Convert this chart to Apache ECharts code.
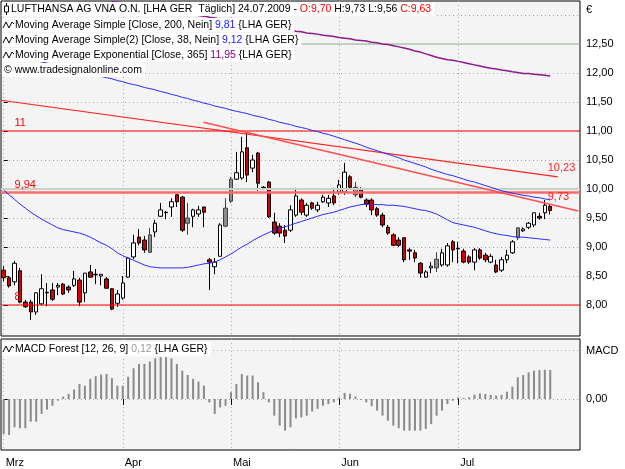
<!DOCTYPE html>
<html>
<head>
<meta charset="utf-8">
<style>
html, body { margin: 0; padding: 0; background: #fff; }
#chart { width: 625px; height: 469px; }
</style>
</head>
<body>
<div id="chart"></div>
<script src="https://cdn.jsdelivr.net/npm/echarts@6.0.0/dist/echarts.min.js"></script>
<script>
// LHA GER daily, 02.03.2009 - 24.07.2009, one row per trading day: open, close, low, high
var candles = [
  [8.60, 8.47, 8.41, 8.67], [8.47, 8.33, 8.30, 8.50], [8.40, 8.72, 8.34, 8.76], [8.59, 8.05, 8.03, 8.64],
  [8.05, 7.97, 7.95, 8.09], [8.05, 7.88, 7.74, 8.09], [7.88, 8.21, 7.83, 8.22], [8.02, 8.28, 8.00, 8.53],
  [8.21, 8.22, 7.98, 8.38], [8.26, 8.10, 8.07, 8.38], [8.31, 8.34, 8.17, 8.38], [8.36, 8.19, 8.17, 8.38],
  [8.31, 8.26, 8.21, 8.34], [8.34, 8.45, 8.31, 8.59], [8.43, 8.05, 7.98, 8.47], [8.21, 8.55, 8.05, 8.55],
  [8.57, 8.48, 8.48, 8.69], [8.52, 8.53, 8.36, 8.62], [8.50, 8.53, 8.34, 8.53], [8.45, 8.29, 8.28, 8.48],
  [8.28, 7.93, 7.91, 8.29], [8.03, 8.19, 7.97, 8.26], [8.12, 8.38, 8.09, 8.50], [8.48, 8.81, 8.47, 8.83],
  [8.83, 9.07, 8.79, 9.21], [9.17, 9.07, 9.03, 9.31], [9.12, 8.95, 8.90, 9.19], [8.91, 9.21, 8.90, 9.33],
  [9.26, 9.41, 9.17, 9.47], [9.53, 9.64, 9.52, 9.76], [9.59, 9.60, 9.48, 9.62], [9.69, 9.78, 9.52, 9.84],
  [9.90, 9.78, 9.69, 9.91], [9.86, 9.29, 9.26, 9.88], [9.41, 9.50, 9.21, 9.76], [9.53, 9.64, 9.34, 9.66],
  [9.57, 9.64, 9.52, 9.71], [9.69, 9.60, 9.34, 9.69], [8.78, 8.74, 8.26, 8.81], [8.66, 8.74, 8.53, 8.81],
  [8.84, 9.38, 8.84, 9.41], [9.36, 9.67, 9.34, 9.84], [9.79, 10.17, 9.76, 10.21], [10.17, 10.28, 10.16, 10.64],
  [10.19, 10.64, 10.16, 10.90], [10.71, 10.24, 10.12, 10.97], [10.36, 10.50, 10.29, 10.59], [10.62, 10.10, 9.97, 10.64],
  [10.03, 10.02, 9.98, 10.05], [10.12, 9.52, 9.50, 10.14], [9.43, 9.24, 9.21, 9.59], [9.36, 9.24, 9.17, 9.41],
  [9.29, 9.19, 9.07, 9.38], [9.29, 9.64, 9.26, 9.72], [9.55, 9.88, 9.52, 10.02], [9.81, 9.60, 9.55, 9.84],
  [9.55, 9.72, 9.52, 9.76], [9.76, 9.67, 9.64, 9.78], [9.64, 9.72, 9.60, 9.78], [9.78, 9.86, 9.76, 9.90],
  [9.76, 9.84, 9.69, 9.90], [9.88, 9.76, 9.72, 10.02], [9.95, 10.07, 9.90, 10.16], [9.95, 10.29, 9.90, 10.45],
  [10.21, 10.03, 10.00, 10.24], [9.90, 10.03, 9.86, 10.12], [10.00, 9.86, 9.84, 10.03], [9.81, 9.74, 9.69, 9.84],
  [9.81, 9.64, 9.55, 9.84], [9.66, 9.55, 9.52, 9.69], [9.55, 9.38, 9.34, 9.59], [9.34, 9.24, 9.21, 9.38],
  [9.21, 9.03, 9.02, 9.24], [9.12, 9.03, 9.00, 9.17], [9.16, 8.78, 8.74, 9.16], [8.95, 8.93, 8.78, 8.98],
  [8.90, 8.81, 8.74, 8.95], [8.72, 8.55, 8.47, 8.74], [8.48, 8.57, 8.47, 8.60], [8.64, 8.67, 8.55, 8.74],
  [8.64, 8.79, 8.57, 8.91], [8.69, 8.90, 8.66, 8.97], [8.69, 9.02, 8.66, 9.07], [9.09, 8.95, 8.74, 9.12],
  [8.97, 8.98, 8.72, 9.09], [8.93, 8.74, 8.72, 8.97], [8.83, 8.74, 8.71, 8.86], [8.74, 8.95, 8.60, 8.98],
  [8.95, 8.81, 8.78, 8.98], [8.86, 8.78, 8.74, 8.90], [8.74, 8.84, 8.72, 8.88], [8.69, 8.57, 8.55, 8.78],
  [8.60, 8.78, 8.57, 8.83], [8.78, 8.86, 8.72, 8.95], [8.90, 9.09, 8.88, 9.12], [9.16, 9.33, 9.12, 9.34],
  [9.28, 9.31, 9.26, 9.34], [9.34, 9.41, 9.31, 9.43], [9.38, 9.59, 9.34, 9.59], [9.53, 9.50, 9.47, 9.59],
  [9.59, 9.72, 9.48, 9.81], [9.70, 9.63, 9.56, 9.73]
];
// days drawn with a grey body
var grayDays = [27, 34, 41, 42, 65, 80, 95];

var ma200 = [
  12.34, 12.32, 12.30, 12.28, 12.26, 12.24, 12.21, 12.19, 12.17, 12.15,
  12.12, 12.10, 12.08, 12.06, 12.03, 12.01, 11.99, 11.97, 11.94, 11.92,
  11.90, 11.87, 11.85, 11.82, 11.80, 11.78, 11.75, 11.73, 11.71, 11.68,
  11.66, 11.63, 11.61, 11.58, 11.56, 11.53, 11.51, 11.48, 11.46, 11.43,
  11.41, 11.39, 11.36, 11.34, 11.32, 11.30, 11.27, 11.25, 11.23, 11.20,
  11.18, 11.15, 11.13, 11.11, 11.08, 11.06, 11.04, 11.01, 10.99, 10.96,
  10.94, 10.91, 10.88, 10.85, 10.82, 10.79, 10.76, 10.72, 10.69, 10.66,
  10.63, 10.60, 10.57, 10.54, 10.50, 10.47, 10.44, 10.41, 10.38, 10.34,
  10.31, 10.28, 10.25, 10.23, 10.20, 10.17, 10.14, 10.12, 10.09, 10.06,
  10.03, 10.00, 9.97, 9.95, 9.93, 9.91, 9.89, 9.88, 9.86, 9.85,
  9.83, 9.81
];
var ma38 = [
  9.98, 9.90, 9.82, 9.74, 9.67, 9.60, 9.54, 9.48, 9.43, 9.38,
  9.33, 9.30, 9.28, 9.26, 9.24, 9.21, 9.17, 9.12, 9.07, 9.03,
  8.97, 8.90, 8.85, 8.81, 8.77, 8.73, 8.69, 8.66, 8.65, 8.64,
  8.64, 8.64, 8.64, 8.64, 8.65, 8.67, 8.69, 8.71, 8.72, 8.74,
  8.78, 8.83, 8.88, 8.94, 9.00, 9.05, 9.11, 9.16, 9.21, 9.25,
  9.29, 9.32, 9.35, 9.38, 9.41, 9.44, 9.47, 9.50, 9.53, 9.56,
  9.58, 9.60, 9.63, 9.66, 9.69, 9.71, 9.73, 9.74, 9.74, 9.73,
  9.73, 9.72, 9.72, 9.71, 9.70, 9.68, 9.66, 9.64, 9.63, 9.60,
  9.57, 9.52, 9.47, 9.42, 9.40, 9.38, 9.36, 9.34, 9.31, 9.28,
  9.25, 9.23, 9.21, 9.20, 9.18, 9.17, 9.17, 9.16, 9.15, 9.14,
  9.13, 9.12
];
var ema365 = [
  null, null, null, null, null, null, null, null, null, null,
  null, null, null, null, null, null, null, null, null, null,
  13.23, 13.22, 13.20, 13.19, 13.17, 13.16, 13.14, 13.13, 13.11, 13.10,
  13.08, 13.07, 13.05, 13.04, 13.02, 13.01, 12.99, 12.98, 12.96, 12.95,
  12.93, 12.92, 12.91, 12.89, 12.87, 12.86, 12.84, 12.83, 12.81, 12.80,
  12.78, 12.77, 12.75, 12.74, 12.72, 12.71, 12.69, 12.68, 12.67, 12.65,
  12.64, 12.63, 12.61, 12.60, 12.59, 12.57, 12.56, 12.55, 12.53, 12.52,
  12.50, 12.49, 12.47, 12.45, 12.43, 12.41, 12.38, 12.36, 12.33, 12.30,
  12.27, 12.25, 12.23, 12.22, 12.20, 12.18, 12.16, 12.14, 12.12, 12.10,
  12.08, 12.07, 12.05, 12.04, 12.02, 12.01, 11.99, 11.99, 11.98, 11.97,
  11.96, 11.95
];
var macd = [
  -0.145, -0.149, -0.117, -0.121, -0.121, -0.094, -0.094, -0.062, -0.044, -0.028,
  -0.007, 0.010, 0.021, 0.039, 0.062, 0.055, 0.083, 0.094, 0.101, 0.103,
  0.086, 0.055, 0.055, 0.092, 0.127, 0.145, 0.145, 0.155, 0.168, 0.173,
  0.173, 0.168, 0.145, 0.117, 0.099, 0.083, 0.072, 0.055, -0.014, -0.062,
  -0.035, -0.028, 0.028, 0.062, 0.103, 0.097, 0.097, 0.069, 0.028, -0.014,
  -0.069, -0.110, -0.131, -0.117, -0.080, -0.076, -0.069, -0.052, -0.041, -0.028,
  -0.021, -0.014, 0.007, 0.025, 0.021, 0.010, -0.004, -0.014, -0.030, -0.048,
  -0.069, -0.090, -0.110, -0.121, -0.131, -0.131, -0.131, -0.131, -0.124, -0.104,
  -0.069, -0.048, -0.021, -0.007, 0.007, 0.004, 0.007, 0.018, 0.023, 0.021,
  0.017, 0.014, 0.017, 0.030, 0.051, 0.090, 0.099, 0.110, 0.117, 0.120,
  0.121, 0.120
];

var monthStarts = [0, 22, 42, 62, 84];
var monthNames = ['Mrz', 'Apr', 'Mai', 'Jun', 'Jul'];
var priceTicks = [8, 8.5, 9, 9.5, 10, 10.5, 11, 11.5, 12, 12.5];
var priceGrid = priceTicks.concat([13]);

// drawn lines: labelled horizontals, plain horizontals, trend lines
var levels = [11, 9.94, 8];
var plainLevels = [12.5, 10];
var trendA = [[-0.5, 11.53], [102.4, 10.21]];
var trendB = [[36.9, 11.15], [106.2, 9.62]];
var trendValues = [10.23, 9.73];

var FONT = '"Liberation Sans", Arial, sans-serif';
var XMIN = -0.5, XMAX = 106.5;

function comma(v) { return v.toFixed(2).replace('.', ','); }
function pairs(arr) { return arr.map(function (v, i) { return [i, v]; }); }

var chart = echarts.init(document.getElementById('chart'), null, {renderer: 'canvas'});

var candleData = candles.map(function (c, i) {
  var item = {value: [i, c[0], c[1], c[2], c[3]]};
  if (grayDays.indexOf(i) >= 0) {
    item.itemStyle = {color: '#8c8c8c', color0: '#8c8c8c', borderColor: '#404040', borderColor0: '#404040'};
  }
  return item;
});

function hline(v, color, width, type, labelText, gridIdx) {
  var s = {
    type: 'line', xAxisIndex: gridIdx || 0, yAxisIndex: gridIdx || 0,
    data: [[XMIN, v], [XMAX, v]], symbol: 'none', silent: true, z: 3,
    lineStyle: {color: color, width: width, type: type || 'solid'}
  };
  if (labelText) {
    s.markPoint = {
      symbol: 'circle', symbolSize: 1, itemStyle: {color: 'rgba(0,0,0,0)'},
      data: [{coord: [2.1, v]}],
      label: {show: true, position: [0, -13], formatter: labelText, color: '#ff0000', fontSize: 11, fontFamily: FONT}
    };
  }
  return s;
}

function trend(pts, color, width, value) {
  return {
    type: 'line', data: pts, symbol: 'none', silent: true, z: 3,
    lineStyle: {color: color, width: width},
    markPoint: {
      symbol: 'circle', symbolSize: 1, itemStyle: {color: 'rgba(0,0,0,0)'},
      data: [{coord: [candles.length - 1, value]}],
      label: {show: true, position: [-2, -13], formatter: comma(value), color: '#ff2020', fontSize: 11, fontFamily: FONT}
    }
  };
}

var series = [
  {
    type: 'candlestick', data: candleData, encode: {x: 0, y: [1, 2, 3, 4]}, barWidth: 4, z: 2,
    itemStyle: {color: '#ffffff', color0: '#d40000', borderColor: '#000', borderColor0: '#000', borderWidth: 1}
  },
  {type: 'line', data: pairs(ma38), symbol: 'none', z: 4, lineStyle: {color: '#2b2bff', width: 1}},
  {type: 'line', data: pairs(ma200), symbol: 'none', z: 4, lineStyle: {color: '#2b2bff', width: 1}},
  {type: 'line', data: pairs(ema365), symbol: 'none', z: 4, lineStyle: {color: '#8b1a8b', width: 1.5}},
  hline(plainLevels[0], '#8fbc8f', 1),
  hline(plainLevels[1], '#c8d0c8', 2),
  hline(levels[0], '#ff0000', 1, 'solid', String(levels[0]).replace('.', ',')),
  hline(levels[1], '#ff6a6a', 2.5, 'solid', String(levels[1]).replace('.', ',')),
  hline(levels[2], '#ff0000', 1.2, 'solid', String(levels[2]).replace('.', ',')),
  trend(trendA, '#ff2020', 1.2, trendValues[0]),
  trend(trendB, '#ff5050', 1.5, trendValues[1]),
  {
    type: 'bar', xAxisIndex: 1, yAxisIndex: 1, data: pairs(macd), barWidth: 2, z: 2,
    itemStyle: {color: '#8a8a8a'}
  },
  hline(0.2, '#a8a8a8', 1, [1, 3], null, 1)
];

var vSplit = {show: true, lineStyle: {color: '#9cb89c', type: [1, 3], width: 1}};
var hSplit = {show: true, lineStyle: {color: '#a6a6a6', type: [1, 3], width: 1}};

var option = {
  animation: false,
  backgroundColor: '#ffffff',
  grid: [
    {left: 1, top: 1, width: 579, height: 335, show: true, backgroundColor: '#f4f4f4', borderColor: '#000', borderWidth: 1},
    {left: 1, top: 339, width: 579, height: 111, show: true, backgroundColor: '#f4f4f4', borderColor: '#000', borderWidth: 1}
  ],
  xAxis: [
    {
      type: 'value', gridIndex: 0, min: XMIN, max: XMAX,
      axisLine: {show: false}, axisLabel: {show: false},
      axisTick: {show: false, customValues: monthStarts},
      splitLine: vSplit
    },
    {
      type: 'value', gridIndex: 1, min: XMIN, max: XMAX, position: 'bottom',
      axisLine: {show: false},
      axisTick: {show: true, length: 6, customValues: monthStarts, lineStyle: {color: '#000'}},
      axisLabel: {
        show: true, customValues: monthStarts, align: 'left', margin: 7, padding: [0, 0, 0, 2],
        color: '#000', fontSize: 11, fontFamily: FONT,
        formatter: function (v) { return monthNames[monthStarts.indexOf(Math.round(v))]; }
      },
      splitLine: vSplit
    }
  ],
  yAxis: [
    {
      type: 'value', gridIndex: 0, position: 'right', min: 7.466, max: 13.241,
      axisLine: {show: false},
      axisTick: {show: true, length: 4, customValues: priceGrid, lineStyle: {color: '#000'}},
      axisLabel: {customValues: priceTicks, margin: 6, color: '#000', fontSize: 11, fontFamily: FONT, formatter: comma},
      splitLine: hSplit
    },
    {
      type: 'value', gridIndex: 1, position: 'right', min: -0.211, max: 0.248,
      axisLine: {show: false},
      axisTick: {show: true, length: 4, customValues: [0], lineStyle: {color: '#000'}},
      axisLabel: {
        customValues: [0, 0.2], margin: 6, color: '#000', fontSize: 11, fontFamily: FONT,
        formatter: function (v) { return v === 0 ? '0,00' : 'MACD'; }
      },
      splitLine: hSplit
    }
  ],
  series: series
};

// legend rows drawn on top of the plot, white boxes hide lines behind them
var last = candles[candles.length - 1];
var rich = {
  k: {fill: '#000'},
  r: {fill: '#ff0000'},
  b: {fill: '#2020ff'},
  p: {fill: '#800080'},
  g: {fill: '#999999'}
};
function row(y, padLeft, text) {
  return {
    type: 'text', x: 2, y: y, z: 100,
    style: {
      text: text, rich: rich, font: '10.5px ' + FONT, fill: '#000',
      backgroundColor: '#ffffff', padding: [2, 3, 1, padLeft], verticalAlign: 'middle'
    }
  };
}
function waveIcon(c) {
  return {
    type: 'polyline', z: 101,
    shape: {points: [[3, c + 3], [6, c - 3], [9, c + 3], [12, c - 3], [14, c - 1]]},
    style: {stroke: '#000', lineWidth: 1, fill: null}
  };
}
function candleIcon(c) {
  return {
    type: 'group', z: 101, children: [
      {type: 'line', z: 101, shape: {x1: 6.5, y1: c - 6, x2: 6.5, y2: c + 6}, style: {stroke: '#000', lineWidth: 1}},
      {type: 'rect', z: 102, shape: {x: 4.5, y: c - 3, width: 4, height: 6}, style: {fill: '#fff', stroke: '#000', lineWidth: 1}}
    ]
  };
}

option.graphic = [
  row(9, 9, 'LUFTHANSA AG VNA O.N. [LHA GER  Täglich] 24.07.2009 - {r|O:' + comma(last[0]) + '} H:' +
    comma(last[3]) + ' L:' + comma(last[2]) + ' {r|C:' + comma(last[1]) + '}'),
  row(25, 13, 'Moving Average Simple [Close, 200, Nein] {b|' + comma(ma200[ma200.length - 1]) + '} {LHA GER}'),
  row(40, 13, 'Moving Average Simple(2) [Close, 38, Nein] {b|' + comma(ma38[ma38.length - 1]) + '} {LHA GER}'),
  row(55, 13, 'Moving Average Exponential [Close, 365] {p|' + comma(ema365[ema365.length - 1]) + '} {LHA GER}'),
  row(70, 2, '© www.tradesignalonline.com'),
  row(349, 13, 'MACD Forest [12, 26, 9] {g|' + comma(macd[macd.length - 1]) + '} {LHA GER}'),
  candleIcon(9), waveIcon(25), waveIcon(40), waveIcon(55), waveIcon(349),
  {type: 'text', x: 586, y: 10, z: 100, style: {text: '€', font: '11px ' + FONT, fill: '#000', verticalAlign: 'middle'}}
];

chart.setOption(option);
</script>
</body>
</html>
